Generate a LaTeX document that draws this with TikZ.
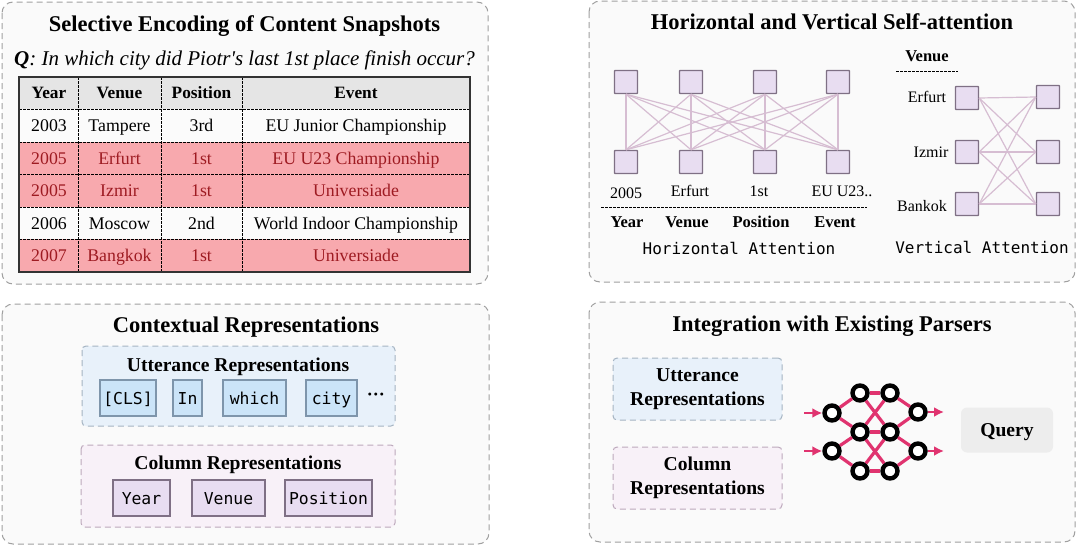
\documentclass[tikz,border=0pt]{standalone}
\usepackage{fontspec}
\setmainfont{Liberation Serif}
\setmonofont{DejaVu Sans Mono}
\definecolor{panelfill}{HTML}{FAFAFA}
\definecolor{panelline}{HTML}{A0A0A0}
\definecolor{rowred}{HTML}{F8A9AE}
\definecolor{txtred}{HTML}{9E1B22}
\definecolor{rowwhite}{HTML}{FBFBFB}
\definecolor{headgray}{HTML}{E5E5E5}
\definecolor{sqfill}{HTML}{E8DDF1}
\definecolor{sqline}{HTML}{7F7085}
\definecolor{edgecol}{HTML}{D6BDD2}
\definecolor{bluebox}{HTML}{E8F1FA}
\definecolor{blueline}{HTML}{A5B4C2}
\definecolor{bluetok}{HTML}{CBE4F8}
\definecolor{bluetokline}{HTML}{7E95AB}
\definecolor{pinkbox}{HTML}{F8F1F8}
\definecolor{pinkline}{HTML}{BDA9BC}
\definecolor{neted}{HTML}{E0336F}
\usetikzlibrary{arrows.meta}
\tikzset{
  panel/.style={draw=panelline,fill=panelfill,line width=1pt,dash pattern=on 6pt off 4pt,rounded corners=11pt},
  title/.style={font=\fontsize{22.5}{24}\selectfont\bfseries,inner sep=0pt,anchor=base},
  sub/.style={font=\fontsize{19.6}{23.5}\selectfont\bfseries,inner sep=0pt,align=center},
  subl/.style={sub,anchor=base},
  mono/.style={font=\fontsize{16}{18}\ttfamily,inner sep=0pt},
  lab/.style={font=\fontsize{16}{18}\selectfont,inner sep=0pt},
  blab/.style={font=\fontsize{16.5}{18}\selectfont\bfseries,inner sep=0pt},
  cell/.style={font=\fontsize{17.8}{19}\selectfont,inner sep=0pt,anchor=base,yshift=-6pt},
  hcell/.style={cell,font=\fontsize{17.3}{19}\selectfont\bfseries},
  rcell/.style={cell,text=txtred},
  sq/.style={draw=sqline,fill=sqfill,line width=1.4pt,minimum size=23pt,inner sep=0pt,rounded corners=.6pt},
  att/.style={draw=edgecol,line width=1.2pt},
  bluearea/.style={draw=blueline,fill=bluebox,line width=1pt,dash pattern=on 6pt off 4pt,rounded corners=4pt},
  pinkarea/.style={draw=pinkline,fill=pinkbox,line width=1pt,dash pattern=on 6pt off 4pt,rounded corners=4pt},
  btok/.style={draw=bluetokline,fill=bluetok,line width=1.1pt,inner sep=0pt,minimum height=36pt,text height=13pt,text depth=1pt,font=\fontsize{16.4}{18}\ttfamily},
  ptok/.style={draw=sqline,fill=sqfill,line width=1.1pt,inner sep=0pt,minimum height=36pt,text height=13pt,text depth=1pt,font=\fontsize{16.4}{18}\ttfamily},
  netn/.style={circle,draw=black,fill=white,line width=4.4pt,minimum size=15pt,inner sep=0pt},
  nete/.style={draw=neted,line width=3.2pt},
  neta/.style={draw=neted,line width=2.8pt,-{Latex[length=10pt,width=10pt]}},
  tabgrid/.style={black,line width=1pt,dash pattern=on 2.5pt off 1.5pt},
  rule/.style={black,line width=.9pt,dash pattern=on 2.5pt off 1.5pt},
}
\begin{document}
\begin{tikzpicture}[x=1pt,y=-1pt]
\useasboundingbox (0,0) rectangle (1080,546);
\fill[white] (0,0) rectangle (1080,546);
% panels
\draw[panel] (2,2) rectangle (488,284);
\draw[panel] (589,1) rectangle (1075,282);
\draw[panel] (2,304) rectangle (489,544);
\draw[panel] (589,302) rectangle (1075,542);
% panel 1
\node[title] (t1) at (244.5,31.7) {Selective Encoding of Content Snapshots};
\node[anchor=base,inner sep=0pt,font=\fontsize{21}{23}\selectfont\itshape] (q) at (244.5,65) {\textbf{Q}: In which city did Piotr\textquotesingle s last 1st place finish occur?};
\fill[headgray] (19,77) rectangle (470,109);
\fill[rowwhite] (19,109) rectangle (470,142);
\fill[rowred] (19,142) rectangle (470,207);
\fill[rowwhite] (19,207) rectangle (470,239);
\fill[rowred] (19,239) rectangle (470,272);
\foreach \yy in {109,142,174,207,239} \draw[tabgrid] (19,\yy) -- (470,\yy);
\foreach \xx in {78,161,242} \draw[tabgrid] (\xx,77) -- (\xx,272);
\draw[black!80,line width=1.1pt] (19,77) rectangle (470,272);
\node[hcell] (h1) at (49,92.5) {Year};
\node[hcell] (h2) at (119.5,92.5) {Venue};
\node[hcell] (h3) at (201.5,92.5) {Position};
\node[hcell] (h4) at (356,92.5) {Event};
\node[cell] (a1) at (49,125.5) {2003};
\node[cell] (a2) at (119.5,125.5) {Tampere};
\node[cell] (a3) at (201.5,125.5) {3rd};
\node[cell] (a4) at (356,125.5) {EU Junior Championship};
\node[rcell] (b1) at (49,158) {2005};
\node[rcell] (b2) at (119.5,158) {Erfurt};
\node[rcell] (b3) at (201.5,158) {1st};
\node[rcell] (b4) at (356,158) {EU U23 Championship};
\node[rcell] (c1) at (49,190.5) {2005};
\node[rcell] (c2) at (119.5,190.5) {Izmir};
\node[rcell] (c3) at (201.5,190.5) {1st};
\node[rcell] (c4) at (356,190.5) {Universiade};
\node[cell] (d1) at (49,223) {2006};
\node[cell] (d2) at (119.5,223) {Moscow};
\node[cell] (d3) at (201.5,223) {2nd};
\node[cell] (d4) at (356,223) {World Indoor Championship};
\node[rcell] (e1) at (49,255.5) {2007};
\node[rcell] (e2) at (119.5,255.5) {Bangkok};
\node[rcell] (e3) at (201.5,255.5) {1st};
\node[rcell] (e4) at (356,255.5) {Universiade};
% panel 2
\node[title] (t2) at (832,30) {Horizontal and Vertical Self-attention};
\node[sq] (ht1) at (626,82) {};
\node[sq] (ht2) at (691,82) {};
\node[sq] (ht3) at (765,82) {};
\node[sq] (ht4) at (838,82) {};
\node[sq] (hb1) at (626,162) {};
\node[sq] (hb2) at (691,162) {};
\node[sq] (hb3) at (765,162) {};
\node[sq] (hb4) at (838,162) {};
\foreach \i in {1,2,3,4} \foreach \j in {1,2,3,4} \draw[att] (ht\i.south) -- (hb\j.north);
\node[lab] (l1) at (626,193) {2005};
\node[lab] (l2) at (690,191) {Erfurt};
\node[lab] (l3) at (759,191) {1st};
\node[lab] (l4) at (842,191) {EU U23..};
\coordinate (r1a) at (601,207);
\coordinate (r1b) at (867,207);
\draw[rule] (r1a) -- (r1b);
\node[blab] (k1) at (627,222) {Year};
\node[blab] (k2) at (687,222) {Venue};
\node[blab] (k3) at (761,222) {Position};
\node[blab] (k4) at (835,222) {Event};
\node[mono] (ha) at (739,248) {Horizontal Attention};
\node[blab] (vh) at (927,56) {Venue};
\coordinate (r2a) at (896,71);
\coordinate (r2b) at (958,71);
\draw[rule] (r2a) -- (r2b);
\node[lab] (v1) at (927,97) {Erfurt};
\node[lab] (v2) at (931,152) {Izmir};
\node[lab] (v3) at (922,206) {Bankok};
\node[sq] (vl1) at (967,98) {};
\node[sq] (vl2) at (967,152) {};
\node[sq] (vl3) at (967,204) {};
\node[sq] (vr1) at (1048,97) {};
\node[sq] (vr2) at (1048,152) {};
\node[sq] (vr3) at (1048,204) {};
\foreach \i in {1,2,3} \foreach \j in {1,2,3} \draw[att] (vl\i.east) -- (vr\j.west);
\node[mono] (va) at (982,247) {Vertical Attention};
% panel 3
\node[title] (t3) at (246,332.7) {Contextual Representations};
\draw[bluearea] (82,346) rectangle (395,426);
\node[subl] (ur) at (238,371) {Utterance Representations};
\node[btok,minimum width=56pt] (tk1) at (128,398) {[CLS]};
\node[btok,minimum width=29pt] (tk2) at (187.5,398) {In};
\node[btok,minimum width=63pt] (tk3) at (254.5,398) {which};
\node[btok,minimum width=51pt] (tk4) at (331.5,398) {city};
\node[lab,font=\fontsize{18}{18}\selectfont\bfseries] (dots) at (376,397) {···};
\draw[pinkarea] (81,445) rectangle (395,527);
\node[subl] (cr) at (238,469.3) {Column Representations};
\node[ptok,minimum width=57pt] (ct1) at (141.5,498) {Year};
\node[ptok,minimum width=73pt] (ct2) at (228.5,498) {Venue};
\node[ptok,minimum width=87pt] (ct3) at (328.5,498) {Position};
% panel 4
\node[title] (t4) at (832,331) {Integration with Existing Parsers};
\node[bluearea,minimum width=169pt,minimum height=62pt,inner sep=0pt,sub] (u2) at (697.5,389) {Utterance\\Representations};
\node[pinkarea,minimum width=169pt,minimum height=62pt,inner sep=0pt,sub] (c2n) at (697.5,478) {Column\\Representations};
\node[fill=headgray!70,rounded corners=6pt,minimum width=92pt,minimum height=45pt,inner sep=0pt,sub,text height=13pt,text depth=1pt] (qu) at (1007,430) {Query};
\node[netn] (n1) at (832,413) {};
\node[netn] (n2) at (832,451) {};
\node[netn] (n3) at (860,393) {};
\node[netn] (n4) at (860,432) {};
\node[netn] (n5) at (860,471) {};
\node[netn] (n6) at (890,393) {};
\node[netn] (n7) at (890,432) {};
\node[netn] (n8) at (890,471) {};
\node[netn] (n9) at (918,412) {};
\node[netn] (n10) at (918,451) {};
\foreach \a/\b in {n1/n3,n1/n4,n2/n4,n2/n5,n3/n6,n3/n7,n4/n6,n4/n7,n4/n8,n5/n7,n5/n8,n6/n9,n7/n9,n7/n10,n8/n10}
  \draw[nete] (\a) -- (\b);
\coordinate (i1) at (804,413);
\coordinate (i2) at (804,451);
\coordinate (o1) at (944,412);
\coordinate (o2) at (944,451);
\draw[neta] (i1) -- (n1);
\draw[neta] (i2) -- (n2);
\draw[neta] (n9) -- (o1);
\draw[neta] (n10) -- (o2);
\end{tikzpicture}
\end{document}
